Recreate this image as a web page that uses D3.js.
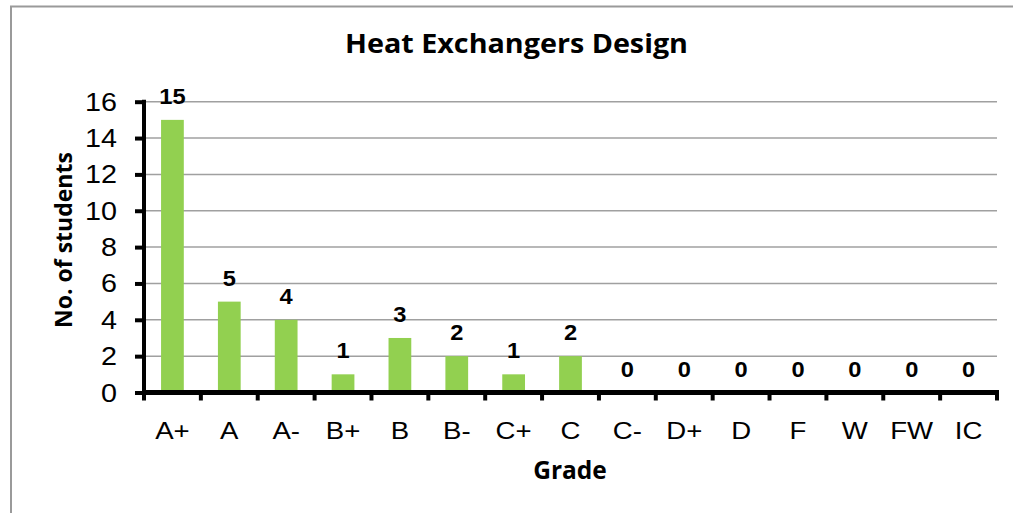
<!DOCTYPE html>
<html><head><meta charset="utf-8">
<script src="https://cdn.jsdelivr.net/npm/d3@7"></script>
<style>body{margin:0;background:#fff}svg{display:block}</style>
</head><body>
<svg id="c" width="1013" height="513"></svg>
<script>
const categories = ["A+","A","A-","B+","B","B-","C+","C","C-","D+","D","F","W","FW","IC"];
const values = [15,5,4,1,3,2,1,2,0,0,0,0,0,0,0];
const yTicks = [0,2,4,6,8,10,12,14,16];
const title = "Heat Exchangers Design";
const xTitle = "Grade";
const yTitle = "No. of students";

const svg = d3.select("#c");
const L = 144, R = 997, T = 101.7, B = 392.5;
const x = d3.scaleBand().domain(categories).range([L, R]).paddingInner(0.6).paddingOuter(0.3);
const y = d3.scaleLinear().domain([0, 16]).range([B, T]);
const SX = 1.15;

// outer border
svg.append("rect").attr("x", 11).attr("y", 6.5).attr("width", 1100).attr("height", 600)
  .attr("fill", "none").attr("stroke", "#9a9a9a").attr("stroke-width", 2);

// gridlines
svg.append("g").selectAll("line").data(yTicks.filter(d => d > 0)).join("line")
  .attr("x1", L).attr("x2", R).attr("y1", d => y(d)).attr("y2", d => y(d))
  .attr("stroke", "#a0a0a0").attr("stroke-width", 1.5);

// bars
svg.append("g").selectAll("rect").data(values).join("rect")
  .attr("x", (d, i) => x(categories[i])).attr("width", x.bandwidth())
  .attr("y", d => y(d)).attr("height", d => y(0) - y(d))
  .attr("fill", "#92D050");

// y axis
const ya = d3.axisLeft(y).tickValues(yTicks).tickSize(9).tickSizeOuter(0).tickFormat("");
const yg = svg.append("g").attr("transform", `translate(${L},0)`).call(ya);
yg.selectAll("path,line").attr("stroke", "#000").attr("stroke-width", 4);
yg.select(".domain").attr("d", `M0,${T - 2}V${B}`);

// y tick labels
svg.append("g").selectAll("text").data(yTicks).join("text")
  .attr("transform", d => `translate(117,${y(d) + 9}) scale(${SX},1)`)
  .attr("text-anchor", "end").attr("font-family", "Liberation Sans, Arial, sans-serif")
  .attr("font-size", 25).attr("fill", "#000").text(d => d);

// x axis line and ticks at category boundaries
const bounds = d3.range(categories.length + 1).map(i => x.range()[0] + i * x.step());
svg.append("line").attr("x1", L - 2).attr("x2", R + 2).attr("y1", B).attr("y2", B)
  .attr("stroke", "#000").attr("stroke-width", 5);
svg.append("g").selectAll("line").data(bounds).join("line")
  .attr("x1", d => d).attr("x2", d => d).attr("y1", B).attr("y2", B + 8)
  .attr("stroke", "#000").attr("stroke-width", 4);

// x tick labels
svg.append("g").selectAll("text").data(categories).join("text")
  .attr("transform", d => `translate(${x(d) + x.bandwidth() / 2},438.5) scale(${SX},1)`)
  .attr("text-anchor", "middle").attr("font-family", "Liberation Sans, Arial, sans-serif")
  .attr("font-size", 24).attr("fill", "#000").text(d => d);

// data labels
svg.append("g").selectAll("text").data(values).join("text")
  .attr("transform", (d, i) => `translate(${x(categories[i]) + x.bandwidth() / 2},${y(d) - 16}) scale(1.1,1)`)
  .attr("text-anchor", "middle").attr("font-family", "Liberation Sans, Arial, sans-serif")
  .attr("font-weight", "bold").attr("font-size", 21.5).attr("fill", "#000").text(d => d);

// titles
svg.append("text").attr("x", 516.5).attr("y", 53).attr("text-anchor", "middle")
  .attr("font-family", "Open Sans, sans-serif").attr("font-weight", "bold")
  .attr("font-size", 27).attr("textLength", 343).attr("lengthAdjust", "spacingAndGlyphs")
  .attr("fill", "#000").text(title);
svg.append("text").attr("x", 570).attr("y", 479).attr("text-anchor", "middle")
  .attr("font-family", "Open Sans, sans-serif").attr("font-weight", "bold")
  .attr("font-size", 24.5).attr("fill", "#000").text(xTitle);
svg.append("text").attr("transform", "translate(71.5,240) rotate(-90)").attr("text-anchor", "middle")
  .attr("font-family", "Open Sans, sans-serif").attr("font-weight", "bold")
  .attr("font-size", 23).attr("fill", "#000").text(yTitle);
</script>
</body></html>
